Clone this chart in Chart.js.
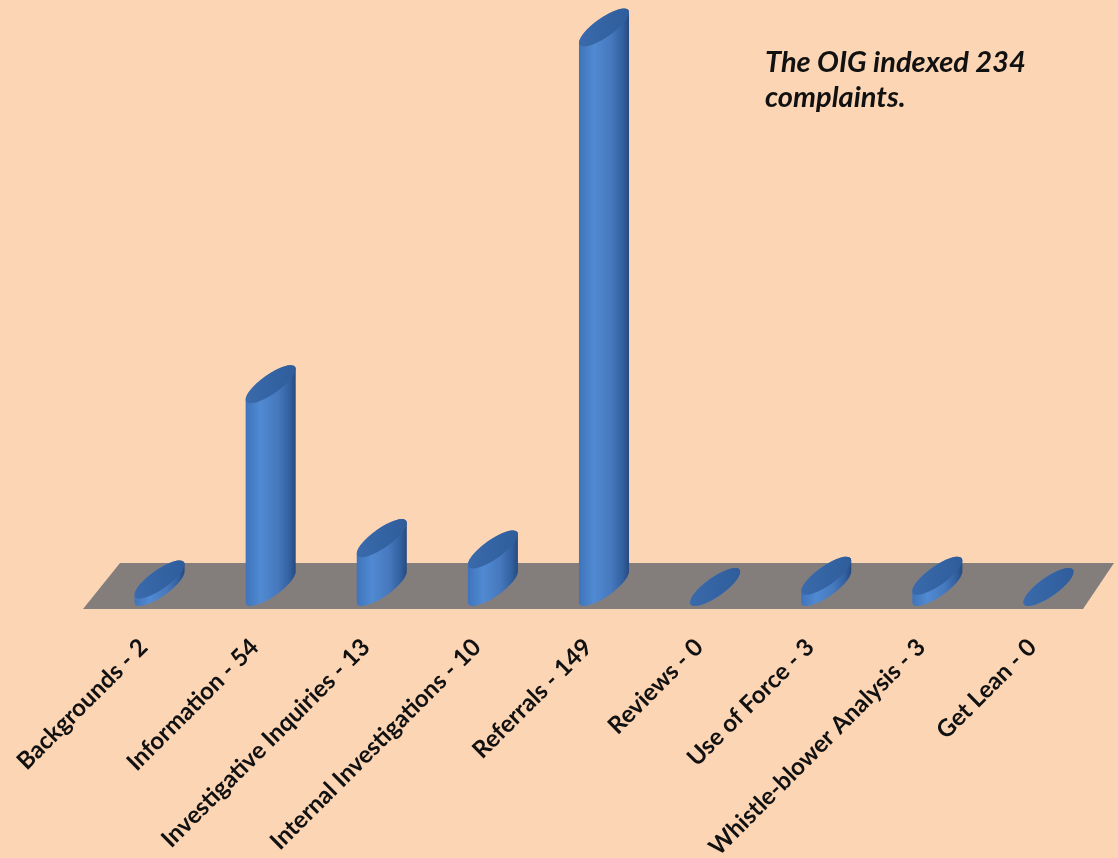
<!DOCTYPE html>
<html lang="en">
<head>
    <meta charset="UTF-8">
    <title>OIG complaints</title>
    <script src="https://cdn.jsdelivr.net/npm/chart.js@4.4.1/dist/chart.umd.min.js"></script>
    <style>
        html, body { margin: 0; padding: 0; background: #fcd5b5; }
        #wrap { position: relative; width: 1118px; height: 858px; }
        #note {
            position: absolute; left: 765px; top: 43px;
            font: italic bold 29px Lato, "Open Sans", sans-serif;
            line-height: 35px; color: #111;
        }
    </style>
</head>
<body>
<div id="wrap">
    <canvas id="chart" width="1118" height="858"></canvas>
    <div id="note">The OIG indexed 234<br>complaints.</div>
</div>

<script>
    // categories and counts
    const categories = ['Backgrounds', 'Information', 'Investigative Inquiries', 'Internal Investigations',
        'Referrals', 'Reviews', 'Use of Force', 'Whistle-blower Analysis', 'Get Lean'];
    const counts = [2, 54, 13, 10, 149, 0, 3, 3, 0];
    const tickLabels = categories.map((c, i) => c + ' - ' + counts[i]);

    // grey floor under the columns
    const floorPlugin = {
        id: 'floor',
        beforeDatasetsDraw(chart) {
            const { ctx, chartArea } = chart;
            const zero = chart.scales.y.getPixelForValue(0);
            ctx.save();
            ctx.beginPath();
            ctx.moveTo(chartArea.left + 16, zero - 24);
            ctx.lineTo(chartArea.right + 10, zero - 24);
            ctx.lineTo(chartArea.right - 21, zero + 22);
            ctx.lineTo(chartArea.left - 21, zero + 22);
            ctx.closePath();
            ctx.fillStyle = '#837d7b';
            ctx.fill();
            ctx.restore();
        }
    };

    // draw every bar as a cylinder with slanted caps
    const cylinderPlugin = {
        id: 'cylinder',
        afterDatasetsDraw(chart) {
            const { ctx } = chart;
            const meta = chart.getDatasetMeta(0);
            const phi = -0.62;
            meta.data.forEach(bar => {
                const half = bar.width / 2;
                const rx = half * 1.2, ry = half * 0.38;
                const t0 = Math.atan2(-ry * Math.sin(phi), rx * Math.cos(phi));
                const dx = rx * Math.cos(t0) * Math.cos(phi) - ry * Math.sin(t0) * Math.sin(phi);
                const dy = rx * Math.cos(t0) * Math.sin(phi) + ry * Math.sin(t0) * Math.cos(phi);
                const x = bar.x, top = bar.y, base = bar.base;

                ctx.save();
                const g = ctx.createLinearGradient(x - dx, 0, x + dx, 0);
                g.addColorStop(0, '#3f74bb');
                g.addColorStop(0.3, '#508ad2');
                g.addColorStop(0.65, '#4678bd');
                g.addColorStop(0.88, '#325f9e');
                g.addColorStop(1, '#264a80');
                ctx.beginPath();
                ctx.ellipse(x, top, rx, ry, phi, t0 + Math.PI, t0 + 2 * Math.PI, false);
                ctx.lineTo(x + dx, base + dy);
                ctx.ellipse(x, base, rx, ry, phi, t0, t0 + Math.PI, false);
                ctx.closePath();
                ctx.fillStyle = g;
                ctx.fill();

                // top cap
                const cg = ctx.createLinearGradient(x - dx, top, x + dx, top);
                cg.addColorStop(0, '#3a6aab');
                cg.addColorStop(1, '#2f5d9c');
                ctx.beginPath();
                ctx.ellipse(x, top, rx, ry, phi, 0, 2 * Math.PI);
                ctx.fillStyle = cg;
                ctx.fill();
                ctx.restore();
            });
        }
    };

    const ctx = document.getElementById('chart').getContext('2d');
    new Chart(ctx, {
        type: 'bar',
        data: {
            labels: tickLabels,
            datasets: [{
                data: counts,
                backgroundColor: 'rgba(0,0,0,0)',
                barPercentage: 0.45,
                categoryPercentage: 1
            }]
        },
        options: {
            responsive: false,
            animation: false,
            events: [],
            layout: { padding: { left: 104, right: 14, top: 5, bottom: 0 } },
            plugins: { legend: { display: false }, tooltip: { enabled: false } },
            scales: {
                x: {
                    grid: { display: false },
                    border: { display: false },
                    afterFit: scale => {
                        scale.height = 271;
                        scale.paddingLeft = 0;
                        scale.paddingRight = 0;
                    },
                    ticks: {
                        color: '#111',
                        font: { family: 'Lato', weight: 'bold', size: 24 },
                        minRotation: 45,
                        maxRotation: 45,
                        padding: 38,
                        labelOffset: -16,
                        autoSkip: false
                    }
                },
                y: {
                    display: false,
                    min: 0,
                    max: 155
                }
            }
        },
        plugins: [floorPlugin, cylinderPlugin]
    });
</script>
</body>
</html>
